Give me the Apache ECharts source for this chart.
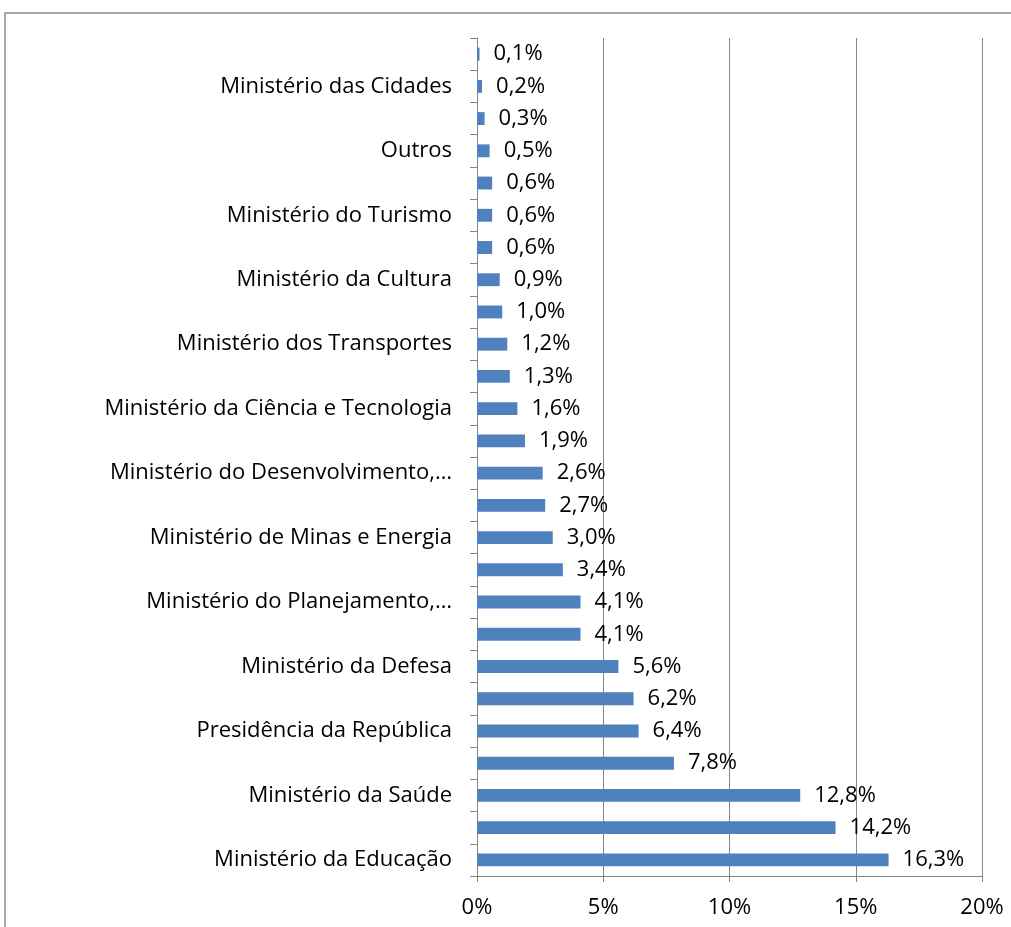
<!DOCTYPE html>
<html>
<head>
<meta charset="utf-8">
<script src="https://cdn.jsdelivr.net/npm/echarts@6/dist/echarts.min.js"></script>
<style>
html,body{margin:0;padding:0;background:#fff;}
#chart{width:1011px;height:927px;}
</style>
</head>
<body>
<div id="chart"></div>
<script>
// Categories listed bottom-to-top (ECharts category y axis starts at the bottom).
// Only every other label is visible in the reference; hidden ones carry neutral names.
const categories = [
  "Ministério da Educação",
  "Órgão oculto 1",
  "Ministério da Saúde",
  "Órgão oculto 2",
  "Presidência da República",
  "Órgão oculto 3",
  "Ministério da Defesa",
  "Órgão oculto 4",
  "Ministério do Planejamento,…",
  "Órgão oculto 5",
  "Ministério de Minas e Energia",
  "Órgão oculto 6",
  "Ministério do Desenvolvimento,…",
  "Órgão oculto 7",
  "Ministério da Ciência e Tecnologia",
  "Órgão oculto 8",
  "Ministério dos Transportes",
  "Órgão oculto 9",
  "Ministério da Cultura",
  "Órgão oculto 10",
  "Ministério do Turismo",
  "Órgão oculto 11",
  "Outros",
  "Órgão oculto 12",
  "Ministério das Cidades",
  "Órgão oculto 13"
];
const values = [16.3, 14.2, 12.8, 7.8, 6.4, 6.2, 5.6, 4.1, 4.1, 3.4, 3.0, 2.7, 2.6, 1.9, 1.6, 1.3, 1.2, 1.0, 0.9, 0.6, 0.6, 0.6, 0.5, 0.3, 0.2, 0.1];
const xTicks = [0, 5, 10, 15, 20];

const chart = echarts.init(document.getElementById('chart'), null, {renderer: 'canvas'});
const font = '"Open Sans", Lato, sans-serif';
const gray = '#868686';
chart.setOption({
  animation: false,
  backgroundColor: '#ffffff',
  graphic: [{
    type: 'rect',
    shape: {x: 5, y: 13, width: 1200, height: 1100},
    style: {fill: 'none', stroke: '#8c8c8c', lineWidth: 1.5},
    silent: true, z: -1
  }],
  grid: {left: 477, right: 29, top: 38, bottom: 51, containLabel: false},
  xAxis: {
    type: 'value',
    min: xTicks[0],
    max: xTicks[xTicks.length - 1],
    interval: xTicks[1] - xTicks[0],
    axisLine: {show: true, lineStyle: {color: gray, width: 1}},
    axisTick: {show: true, length: 6, lineStyle: {color: gray}},
    splitLine: {show: true, lineStyle: {color: gray, width: 1}},
    axisLabel: {
      formatter: v => v + '%',
      fontFamily: font, fontSize: 22, color: '#000', margin: 21
    }
  },
  yAxis: {
    type: 'category',
    data: categories,
    axisLine: {show: true, lineStyle: {color: gray, width: 1}},
    axisTick: {show: true, length: 7, interval: 0, alignWithLabel: false, lineStyle: {color: gray}},
    splitLine: {show: false},
    axisLabel: {
      interval: 1,
      fontFamily: font, fontSize: 22, color: '#000', margin: 25
    }
  },
  series: [{
    type: 'bar',
    data: values,
    barCategoryGap: '60%',
    itemStyle: {color: '#4F81BD'},
    label: {
      show: true,
      position: 'right',
      distance: 14,
      fontFamily: font, fontSize: 22, color: '#000',
      formatter: p => p.value.toFixed(1).replace('.', ',') + '%'
    }
  }]
});
</script>
</body>
</html>
